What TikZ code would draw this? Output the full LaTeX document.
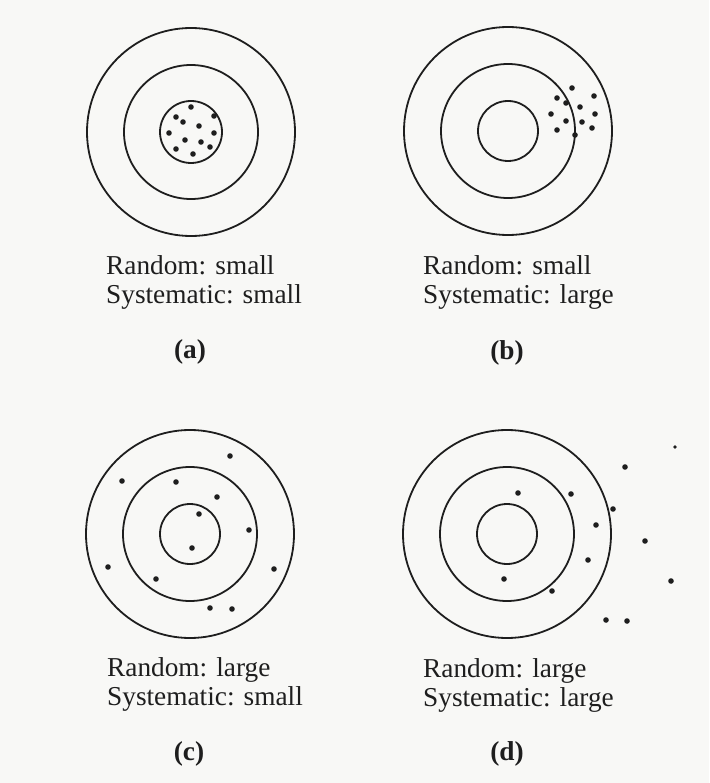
\documentclass[tikz,border=0pt]{standalone}
\usepackage{fontspec}
\setmainfont{Liberation Serif}
\usetikzlibrary{positioning}
\definecolor{pPaper}{HTML}{F8F8F6}
\definecolor{pInk}{HTML}{1E1E1E}

\begin{document}
\begin{tikzpicture}[x=1pt, y=-1pt,
  ring/.style={draw=pInk, line width=1.8pt},
  shot/.style={fill=pInk},
  caption/.style={anchor=base west, inner sep=0pt, text=pInk, font=\fontsize{27.3}{29}\selectfont},
  tag/.style={anchor=base, inner sep=0pt, text=pInk, font=\fontsize{27.3}{29}\selectfont\bfseries}]
  \useasboundingbox[fill=pPaper] (0,0) rectangle (709,783);

  % (a) small random, small systematic
  \foreach \r in {104,67,31} \draw[ring] (191,132) circle[radius=\r pt];
  \foreach \p in {(191,107),(176,117),(214,116),(183,122),(199,126),(169,133),
                  (214,133),(185,140),(201,142),(210,147),(176,149),(193,154)}
    \fill[shot] \p circle[radius=2.8pt];
  \node[caption] (ranA) at (106,274) {Random: small};
  \node[caption] (sysA) at (106,303) {Systematic: small};
  \node[tag] (tagA) at (190,358) {(a)};

  % (b) small random, large systematic
  \foreach \r in {104,67,30} \draw[ring] (508,131) circle[radius=\r pt];
  \foreach \p in {(572,88),(557,98),(594,96),(566,103),(580,107),(551,114),
                  (595,114),(566,121),(582,122),(592,128),(557,130),(575,135)}
    \fill[shot] \p circle[radius=2.8pt];
  \node[caption] (ranB) at (423,274) {Random: small};
  \node[caption] (sysB) at (423,303) {Systematic: large};
  \node[tag] (tagB) at (507,359) {(b)};

  % (c) large random, small systematic
  \foreach \r in {104,67,30} \draw[ring] (190,534) circle[radius=\r pt];
  \foreach \p in {(230,456),(122,481),(176,482),(217,497),(199,514),(249,530),
                  (192,548),(108,567),(274,569),(156,579),(210,608),(232,609)}
    \fill[shot] \p circle[radius=2.8pt];
  \node[caption] (ranC) at (107,676) {Random: large};
  \node[caption] (sysC) at (107,705) {Systematic: small};
  \node[tag] (tagC) at (189,760) {(c)};

  % (d) large random, large systematic
  \foreach \r in {104,67,30} \draw[ring] (507,534) circle[radius=\r pt];
  \foreach \p in {(625,467),(518,493),(571,494),(613,509),(596,525),(645,541),
                  (588,560),(504,579),(671,581),(552,591),(606,620),(627,621)}
    \fill[shot] \p circle[radius=2.8pt];
  \fill[shot] (675,447) circle[radius=1.8pt];
  \node[caption] (ranD) at (423,677) {Random: large};
  \node[caption] (sysD) at (423,706) {Systematic: large};
  \node[tag] (tagD) at (507,760) {(d)};
\end{tikzpicture}
\end{document}
